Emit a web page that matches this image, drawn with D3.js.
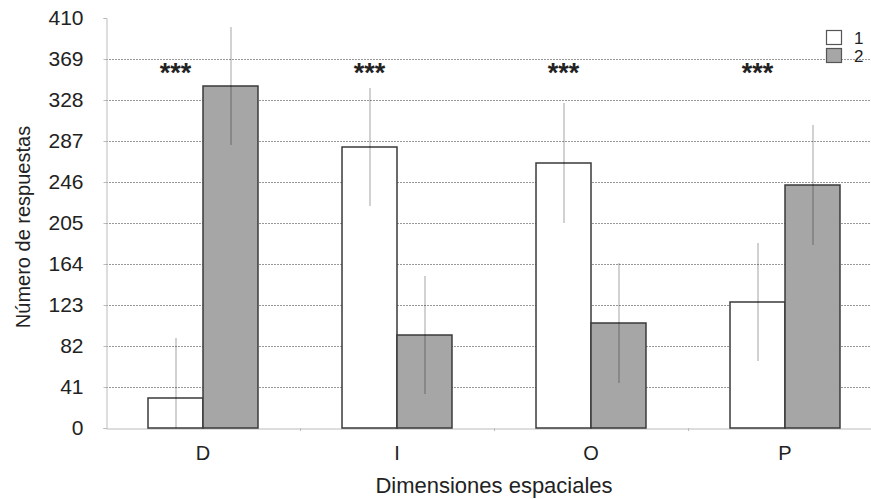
<!DOCTYPE html>
<html>
<head>
<meta charset="utf-8">
<script src="https://d3js.org/d3.v7.min.js"></script>
<style>
  body { margin: 0; background: #fff; }
  text { font-family: "Liberation Sans", Arial, sans-serif; fill: #222; }
</style>
</head>
<body>
<div id="chart"></div>
<script>
"use strict";

// data
const categories = ["D", "I", "O", "P"];
const seriesNames = ["1", "2"];
const values1 = [30, 281, 265, 126];
const values2 = [342, 93, 105, 243];
const errors1 = [60, 59, 60, 59];
const errors2 = [59, 59, 60, 60];
const yTicks = [0, 41, 82, 123, 164, 205, 246, 287, 328, 369, 410];
const signif = ["***", "***", "***", "***"];

const W = 871, H = 499;
const margin = {top: 18, left: 106, bottom: 71};
const plotRight = 882;
const bottomY = H - margin.bottom;

const svg = d3.select("#chart").append("svg")
    .attr("width", W).attr("height", H);

const x0 = d3.scaleBand().domain(categories).range([margin.left, plotRight]);
const x1 = d3.scaleBand().domain(seriesNames).range([0, x0.bandwidth()])
    .paddingInner(0).paddingOuter(0.764);
const y = d3.scaleLinear().domain([0, 410]).range([bottomY, margin.top]);

// grid lines
svg.append("g").selectAll("line")
  .data(yTicks.filter(d => d > 0 && d < 410))
  .enter().append("line")
    .attr("x1", margin.left).attr("x2", W)
    .attr("y1", d => y(d) + 0.5).attr("y2", d => y(d) + 0.5)
    .attr("stroke", "#999").attr("stroke-width", 1)
    .attr("stroke-dasharray", "2,1");

// y axis
const yAxis = svg.append("g")
    .attr("transform", `translate(${margin.left + 0.5},0)`)
    .call(d3.axisLeft(y).tickValues(yTicks).tickSize(3).tickPadding(20));
yAxis.select(".domain").attr("stroke", "#bbb");
yAxis.selectAll(".tick line").attr("stroke", "#bbb");
yAxis.selectAll("text").style("font-size", "21px").attr("fill", "#222");

// x axis
const xAxis = svg.append("g")
    .attr("transform", `translate(0,${bottomY + 0.5})`)
    .call(d3.axisBottom(x0).tickSize(0).tickPadding(17));
xAxis.select(".domain").attr("stroke", "#bbb");
xAxis.selectAll("text").style("font-size", "20px").attr("fill", "#222");
// small ticks between categories
svg.append("g").selectAll("line")
  .data(categories.slice(1))
  .enter().append("line")
    .attr("x1", d => x0(d) + 0.5).attr("x2", d => x0(d) + 0.5)
    .attr("y1", bottomY).attr("y2", bottomY + 3)
    .attr("stroke", "#bbb");

const rows = categories.map((c, i) => ({
  cat: c,
  bars: [
    {key: "1", value: values1[i], err: errors1[i]},
    {key: "2", value: values2[i], err: errors2[i]}
  ]
}));
const fills = {"1": "#ffffff", "2": "#a6a6a6"};

const groups = svg.append("g").selectAll("g")
  .data(rows).enter().append("g")
    .attr("transform", d => `translate(${x0(d.cat)},0)`);

groups.selectAll("rect")
  .data(d => d.bars).enter().append("rect")
    .attr("x", d => x1(d.key))
    .attr("y", d => y(d.value))
    .attr("width", x1.bandwidth())
    .attr("height", d => bottomY - y(d.value))
    .attr("fill", d => fills[d.key])
    .attr("stroke", "#3a3a3a").attr("stroke-width", 1.5);

// error bars
groups.selectAll(".err")
  .data(d => d.bars).enter().append("line")
    .attr("class", "err")
    .attr("x1", d => x1(d.key) + x1.bandwidth() / 2 + 0.5)
    .attr("x2", d => x1(d.key) + x1.bandwidth() / 2 + 0.5)
    .attr("y1", d => y(Math.max(0, d.value - d.err)))
    .attr("y2", d => y(d.value + d.err))
    .attr("stroke", "#000").attr("stroke-opacity", 0.3).attr("stroke-width", 1.2);

// significance stars over the first bar
groups.append("text")
    .attr("x", d => x1("1") + x1.bandwidth() / 2)
    .attr("y", 82)
    .attr("text-anchor", "middle")
    .style("font-size", "27px").style("font-weight", "bold")
    .text((d, i) => signif[i]);

// legend
const legend = svg.append("g").attr("transform", "translate(826,30)");
seriesNames.forEach((s, i) => {
  legend.append("rect")
    .attr("x", 0.5).attr("y", i * 18 + 0.5)
    .attr("width", 15).attr("height", 14)
    .attr("fill", fills[s]).attr("stroke", "#555").attr("stroke-width", 1.2);
  legend.append("text")
    .attr("x", 28).attr("y", i * 18 + 14)
    .style("font-size", "17px")
    .text(s);
});

// axis titles
svg.append("text")
    .attr("transform", `translate(30,227) rotate(-90)`)
    .attr("text-anchor", "middle")
    .style("font-size", "20px")
    .text("Número de respuestas");

svg.append("text")
    .attr("x", (margin.left + plotRight) / 2)
    .attr("y", 493)
    .attr("text-anchor", "middle")
    .style("font-size", "22px")
    .text("Dimensiones espaciales");
</script>
</body>
</html>
